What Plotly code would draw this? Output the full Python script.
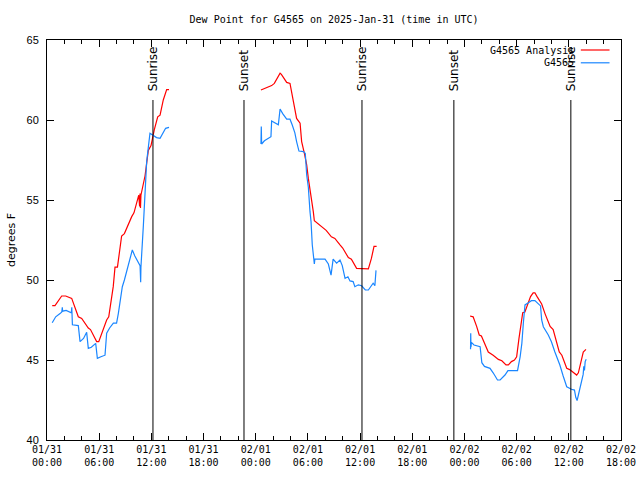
import pandas as pd
import plotly.graph_objects as go

BASE = "2025-01-31 00:00"

# hours since 2025-01-31 00:00 UTC ; None = data gap
analysis_hours = [0.6, 0.92, 1.69, 2.15, 2.84, 3.6, 3.99, 4.75, 5.0, 5.71, 5.95, 6.86, 7.1, 7.62, 7.82, 8.1,
                  8.58, 8.9, 9.74, 10.0, 10.55, 10.65, 10.7, 10.75, 10.8, 11.27, 11.65, 11.96, 12.34, 12.73,
                  13.0, 13.37, 13.76, 14.03, None,
                  24.6, 25.07, 25.83, 26.14, 26.8, 26.95, 27.56, 27.94, 28.2, 28.5, 28.7, 29.1, 29.28, 29.6,
                  29.86, 30.05, 30.36, 30.62, 30.74, 31.2, 31.77, 32.1, 32.7, 33.1, 33.69, 34.0, 34.65, 35.0,
                  35.6, 36.2, 36.95, 37.3, 37.6, 37.9, None,
                  48.64, 49.0, 49.4, 49.7, 49.95, 50.36, 50.74, 51.3, 51.9, 52.3, 52.78, 53.05, 53.4, 53.75,
                  54.0, 54.27, 54.5, 54.7, 54.95, 55.35, 55.6, 55.9, 56.1, 56.35, 56.88, 57.26, 57.64, 57.85,
                  58.2, 58.6, 58.9, 59.2, 59.76, 60.1, 60.5, 60.9, 61.1, 61.36, 61.66, 61.97]
analysis_dewpt = [48.4, 48.4, 49.0, 49.0, 48.85, 47.7, 47.6, 47.0, 46.9, 46.15, 46.15, 47.5, 47.7, 49.6, 50.8, 50.8,
                  52.75, 52.9, 53.96, 54.2, 55.3, 54.6, 55.4, 54.5, 55.3, 56.5, 58.1, 58.4, 59.4, 60.2,
                  60.3, 61.25, 61.9, 61.9, None,
                  61.875, 61.98, 62.15, 62.29, 62.92, 62.85, 62.35, 62.29, 61.56, 60.73, 60.1, 59.8, 58.65, 57.9,
                  57.2, 56.35, 55.3, 54.27, 53.7, 53.48, 53.2, 53.1, 52.7, 52.6, 52.2, 52.0, 51.4, 51.3,
                  50.73, 50.7, 50.69, 51.35, 52.1, 52.1, None,
                  47.75, 47.7, 47.1, 46.56, 46.5, 45.94, 45.5, 45.3, 45.04, 44.95, 44.69, 44.69, 44.9, 45.0,
                  45.2, 46.35, 47.3, 47.96, 48.0, 48.65, 48.96, 49.2, 49.2, 48.96, 48.5, 47.9, 47.3, 47.1,
                  46.9, 46.04, 45.5, 45.3, 44.48, 44.4, 44.2, 44.06, 44.2, 44.9, 45.5, 45.66]

station_hours = [0.6, 1.0, 1.5, 1.7, 1.76, 1.8, 2.2, 2.8, 2.85, 2.88, 2.92, 3.6, 3.8, 4.2, 4.56, 4.75, 5.1, 5.6,
                 5.79, 6.2, 6.67, 6.86, 7.2, 7.63, 8.0, 8.2, 8.66, 8.9, 9.54, 9.81, 10.1, 10.5, 10.7, 10.77,
                 10.8, 11.08, 11.46, 11.84, 12.22, 12.6, 13.0, 13.2, 13.64, 14.03, None,
                 24.6, 24.64, 24.68, 25.0, 25.75, 25.83, 26.4, 26.6, 26.8, 27.1, 27.56, 27.94, 28.2, 28.5,
                 28.7, 28.97, 29.5, 29.7, 29.86, 30.05, 30.24, 30.36, 30.5, 30.7, 30.74, 30.8, 31.97, 32.35,
                 32.66, 32.9, 33.3, 33.69, 33.95, 34.27, 34.6, 34.84, 35.2, 35.4, 35.8, 36.18, 36.6, 36.95,
                 37.5, 37.7, 37.83, None,
                 48.7, 48.72, 48.75, 48.8, 49.1, 49.8, 50.0, 50.3, 50.94, 51.3, 51.8, 52.1, 52.66, 53.0,
                 54.1, 54.4, 54.6, 54.77, 54.96, 55.35, 55.7, 56.1, 56.57, 56.75, 56.88, 57.07, 57.64, 58.0,
                 58.4, 58.97, 59.35, 59.76, 60.3, 60.65, 60.8, 60.95, 61.18, 61.45, 61.65, 61.72, 61.8,
                 61.88, 62.0]
station_dewpt = [47.33, 47.7, 47.9, 48.0, 48.3, 48.05, 48.1, 47.95, 48.3, 47.95, 47.2, 47.15, 46.15, 46.35, 46.73,
                 45.73, 45.8, 46.04, 45.1, 45.2, 45.3, 46.67, 47.0, 47.3, 47.3, 47.9, 49.58, 50.0, 51.46, 51.88,
                 51.5, 51.04, 50.9, 49.86, 50.8, 53.4, 57.4, 59.17, 59.06, 58.9, 58.85, 59.05, 59.48, 59.54, None,
                 58.5, 59.6, 58.5, 58.7, 58.96, 59.94, 59.73, 59.7, 60.69, 60.4, 60.06, 60.05, 59.69, 59.2,
                 58.65, 58.06, 58.02, 57.9, 56.56, 55.8, 54.27, 53.65, 52.2, 51.35, 51.0, 51.3, 51.3, 51.0,
                 50.3, 51.3, 51.05, 51.25, 50.9, 50.1, 50.2, 49.94, 49.9, 49.58, 49.7, 49.64, 49.375, 49.375,
                 49.8, 49.65, 50.6, None,
                 45.67, 46.67, 45.8, 46.1, 45.94, 45.83, 44.83, 44.6, 44.48, 44.2, 43.75, 43.75, 44.06, 44.33,
                 44.33, 45.2, 46.04, 47.3, 48.44, 48.58, 48.71, 48.71, 48.5, 48.38, 47.5, 47.08, 46.56, 46.14,
                 45.5, 44.69, 44.0, 43.33, 43.17, 43.12, 42.67, 42.46, 43.0, 43.75, 44.1, 44.6, 44.35,
                 44.9, 45.04]

sun_times = ["2025-01-31 12:11", "2025-01-31 22:39", "2025-02-01 12:13", "2025-02-01 22:47", "2025-02-02 12:14"]
sun_labels = ["Sunrise", "Sunset", "Sunrise", "Sunset", "Sunrise"]

tick_times = ["2025-01-31 00:00", "2025-01-31 06:00", "2025-01-31 12:00", "2025-01-31 18:00",
              "2025-02-01 00:00", "2025-02-01 06:00", "2025-02-01 12:00", "2025-02-01 18:00",
              "2025-02-02 00:00", "2025-02-02 06:00", "2025-02-02 12:00", "2025-02-02 18:00"]
tick_labels = ["01/31<br>00:00", "01/31<br>06:00", "01/31<br>12:00", "01/31<br>18:00",
               "02/01<br>00:00", "02/01<br>06:00", "02/01<br>12:00", "02/01<br>18:00",
               "02/02<br>00:00", "02/02<br>06:00", "02/02<br>12:00", "02/02<br>18:00"]
y_ticks = [40, 45, 50, 55, 60, 65]

RED = "#ff0000"
BLUE = "#1a86ff"
MONO = "DejaVu Sans Mono"
SANS = "DejaVu Sans"


def to_time(hours):
    base = pd.Timestamp(BASE)
    return [None if h is None else base + pd.to_timedelta(h, unit="h") for h in hours]


fig = go.Figure()
fig.add_trace(go.Scatter(x=to_time(analysis_hours), y=analysis_dewpt, mode="lines",
                         line=dict(color=RED, width=1.2), name="G4565 Analysis", connectgaps=False))
fig.add_trace(go.Scatter(x=to_time(station_hours), y=station_dewpt, mode="lines",
                         line=dict(color=BLUE, width=1.2), name="G4565", connectgaps=False))

for t, lab in zip(sun_times, sun_labels):
    fig.add_shape(type="line", xref="x", yref="paper", x0=t, x1=t, y0=0, y1=0.85,
                  line=dict(color="black", width=1))
    fig.add_annotation(x=t, xref="x", y=0.868, yref="paper", text=lab, showarrow=False,
                       textangle=-90, yanchor="bottom", xanchor="center",
                       font=dict(family=SANS, size=12, color="black"))

# legend drawn gnuplot-style (text right-aligned, sample on the right)
legend_rows = [("G4565 Analysis", RED, 0.975), ("G4565", BLUE, 0.943)]
for txt, col, yy in legend_rows:
    fig.add_annotation(x=0.922, xref="paper", y=yy, yref="paper", text=txt, showarrow=False,
                       xanchor="right", yanchor="middle", font=dict(family=MONO, size=10, color="black"))
    fig.add_shape(type="line", xref="paper", yref="paper", x0=0.93, x1=0.98, y0=yy, y1=yy,
                  line=dict(color=col, width=1.2))

fig.update_layout(
    width=640, height=480,
    margin=dict(l=47, r=19, t=40, b=40, autoexpand=False),
    paper_bgcolor="white", plot_bgcolor="white",
    showlegend=False,
    title=dict(text="Dew Point for G4565 on 2025-Jan-31 (time in UTC)", x=0.522, xanchor="center",
               y=0.96, yanchor="middle", font=dict(family=MONO, size=10, color="black")),
    font=dict(family=MONO, size=10, color="black"),
)
fig.update_xaxes(
    type="date", range=[tick_times[0], tick_times[-1]], automargin=False,
    tickvals=tick_times, ticktext=tick_labels,
    ticks="inside", ticklen=7, tickcolor="black",
    minor=dict(ticks="inside", ticklen=4, dtick=2 * 3600 * 1000, tickcolor="black", showgrid=False),
    showline=True, linecolor="black", linewidth=1, mirror="allticks",
    showgrid=False, zeroline=False,
    tickfont=dict(family=MONO, size=10, color="black"),
)
fig.update_yaxes(
    range=[40, 65], tickvals=y_ticks, automargin=False,
    ticks="inside", ticklen=7, tickcolor="black",
    showline=True, linecolor="black", linewidth=1, mirror="allticks",
    showgrid=False, zeroline=False, ticklabelstandoff=5,
    tickfont=dict(family="Liberation Sans", size=11, color="black"),
)
fig.add_annotation(x=-0.0626, xref="paper", xanchor="center", y=0.5, yref="paper", text="degrees F",
                   showarrow=False, textangle=-90, font=dict(family=SANS, size=11, color="black"))

fig.write_html("out.html", config={"displayModeBar": False},
               post_script="document.body.style.margin='0px';")
